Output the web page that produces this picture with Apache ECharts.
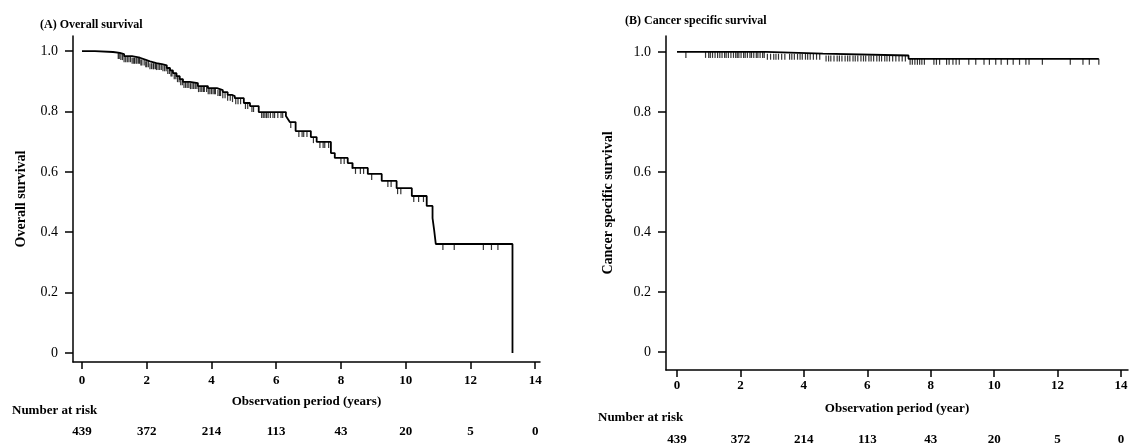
<!DOCTYPE html>
<html>
<head>
<meta charset="utf-8">
<script src="https://cdn.jsdelivr.net/npm/echarts@6/dist/echarts.min.js"></script>
<style>
  html, body { margin: 0; padding: 0; background: #fff; }
  #main { width: 1130px; height: 444px; }
</style>
</head>
<body>
<div id="main"></div>
<script>
// x ticks (years) and number at risk under each tick
var yearTicks = [0, 2, 4, 6, 8, 10, 12, 14];
var survTicks = [0, 0.2, 0.4, 0.6, 0.8, 1.0];
var riskOS = [439, 372, 214, 113, 43, 20, 5, 0];
var riskCSS = [439, 372, 214, 113, 43, 20, 5, 0];

// (A) overall survival: [time, survival after event]
var osSteps = [
  [0, 1.0], [0.4, 0.997], [0.96, 0.994], [1.17, 0.99], [1.3, 0.983], [1.54, 0.978],
  [1.79, 0.972], [1.95, 0.966], [2.1, 0.96], [2.3, 0.957], [2.47, 0.953], [2.62, 0.944],
  [2.72, 0.936], [2.81, 0.927], [2.92, 0.917], [3.02, 0.907], [3.12, 0.898], [3.33, 0.894],
  [3.58, 0.884], [3.89, 0.877], [4.17, 0.871], [4.35, 0.864], [4.5, 0.855], [4.63, 0.851],
  [4.72, 0.844], [5.0, 0.828], [5.19, 0.818], [5.46, 0.798], [6.3, 0.785], [6.36, 0.775],
  [6.42, 0.765], [6.6, 0.735], [7.07, 0.715], [7.25, 0.699], [7.69, 0.662], [7.81, 0.646],
  [8.21, 0.629], [8.36, 0.613], [8.83, 0.593], [9.26, 0.57], [9.72, 0.546], [10.19, 0.52],
  [10.65, 0.487], [10.83, 0.447], [10.88, 0.407], [10.93, 0.361], [13.3, 0]
];
// censored times for (A)
var osCensor = [
  1.12, 1.15, 1.2, 1.25, 1.3, 1.35, 1.4, 1.45, 1.5, 1.55, 1.6, 1.62, 1.67, 1.7, 1.75, 1.78,
  1.82, 1.85, 1.92, 1.97, 2.0, 2.05, 2.1, 2.15, 2.2, 2.22, 2.27, 2.3, 2.35, 2.4, 2.45, 2.5,
  2.55, 2.6, 2.65, 2.7, 2.75, 2.78, 2.85, 2.9, 2.95, 3.0, 3.05, 3.1, 3.15, 3.2, 3.25, 3.3,
  3.35, 3.4, 3.45, 3.5, 3.55, 3.6, 3.65, 3.7, 3.75, 3.78, 3.85, 3.9, 3.95, 4.0, 4.05, 4.1,
  4.12, 4.2, 4.25, 4.28, 4.35, 4.42, 4.5, 4.58, 4.65, 4.75, 4.82, 4.9, 5.05, 5.12, 5.25,
  5.3, 5.55, 5.6, 5.65, 5.7, 5.75, 5.82, 5.9, 5.95, 6.05, 6.15, 6.2, 6.45, 6.7, 6.8, 6.85,
  6.95, 7.15, 7.35, 7.45, 7.5, 7.62, 8.0, 8.1, 8.35, 8.45, 8.6, 8.7, 8.95, 9.45, 9.55, 9.75,
  9.85, 10.25, 10.4, 10.55, 11.15, 11.5, 12.4, 12.65, 12.85
];

// (B) cancer specific survival
var cssSteps = [
  [0, 1.0], [2.8, 0.994], [4.6, 0.988], [7.3, 0.977], [13.3, 0.977]
];
var cssCensor = [
  0.28, 0.9, 1.0, 1.05, 1.12, 1.2, 1.28, 1.35, 1.42, 1.5, 1.55, 1.62, 1.7, 1.78, 1.85, 1.9,
  1.95, 2.02, 2.1, 2.15, 2.22, 2.3, 2.35, 2.42, 2.5, 2.55, 2.62, 2.7, 2.75, 2.85, 2.95, 3.05,
  3.12, 3.2, 3.3, 3.4, 3.55, 3.62, 3.7, 3.8, 3.88, 3.95, 4.05, 4.12, 4.2, 4.3, 4.4, 4.5,
  4.7, 4.78, 4.85, 4.95, 5.05, 5.12, 5.2, 5.3, 5.38, 5.45, 5.55, 5.62, 5.7, 5.8, 5.88, 5.95,
  6.05, 6.12, 6.2, 6.3, 6.38, 6.45, 6.55, 6.62, 6.7, 6.8, 6.9, 7.0, 7.1, 7.2, 7.35, 7.42,
  7.5, 7.58, 7.65, 7.72, 7.8, 8.1, 8.18, 8.28, 8.5, 8.58, 8.7, 8.8, 8.9, 9.2, 9.42, 9.68,
  9.85, 10.05, 10.22, 10.42, 10.6, 10.8, 11.0, 11.1, 11.52, 12.4, 12.8, 13.0, 13.3
];

// value of the step curve at time t
function survAt(steps, t) {
  var s = steps[0][1];
  for (var i = 0; i < steps.length; i++) {
    if (steps[i][0] <= t) s = steps[i][1];
  }
  return s;
}
function censorPoints(steps, times) {
  return times.map(function (t) { return [t, survAt(steps, t)]; });
}

var FONT = '"Liberation Serif", "DejaVu Serif", serif';

function xAxisMain(grid, min, max, name, gap, labelMargin) {
  return {
    gridIndex: grid, type: 'value', min: min, max: max,
    name: name, nameLocation: 'middle', nameGap: gap,
    nameTextStyle: { fontFamily: FONT, fontWeight: 'bold', fontSize: 13, color: '#000' },
    axisLine: { show: true, onZero: false, lineStyle: { color: '#000', width: 1.5 } },
    axisTick: { show: true, length: 7, lineStyle: { color: '#000', width: 1.5 }, customValues: yearTicks },
    axisLabel: { margin: labelMargin, fontFamily: FONT, fontWeight: 'bold', fontSize: 13, color: '#000', customValues: yearTicks },
    splitLine: { show: false }
  };
}
function xAxisRisk(grid, min, max, risk, offset) {
  return {
    gridIndex: grid, type: 'value', min: min, max: max, position: 'bottom', offset: offset,
    axisLine: { show: false }, axisTick: { show: false }, splitLine: { show: false },
    axisLabel: {
      margin: 8, fontFamily: FONT, fontWeight: 'bold', fontSize: 13, color: '#000',
      customValues: yearTicks,
      formatter: function (v) { return String(risk[Math.round(v / 2)]); }
    }
  };
}
function yAxisMain(grid, min, max, name, gap) {
  return {
    gridIndex: grid, type: 'value', min: min, max: max,
    name: name, nameLocation: 'middle', nameGap: gap,
    nameTextStyle: { fontFamily: FONT, fontWeight: 'bold', fontSize: 14, color: '#000' },
    axisLine: { show: true, onZero: false, lineStyle: { color: '#000', width: 1.5 } },
    axisTick: { show: true, length: 8, lineStyle: { color: '#000', width: 1.5 }, customValues: survTicks },
    axisLabel: {
      margin: 15, fontFamily: FONT, fontSize: 14, color: '#000', customValues: survTicks,
      formatter: function (v) { return v === 0 ? '0' : v.toFixed(1); }
    },
    splitLine: { show: false }
  };
}

var censorSymbol = { symbol: 'rect', symbolSize: [1.2, 6], symbolOffset: [0, 3] };

var option = {
  animation: false,
  backgroundColor: '#fff',
  title: [
    { text: '(A) Overall survival', left: 35, top: 14,
      textStyle: { fontFamily: FONT, fontWeight: 'bold', fontSize: 12, color: '#000' } },
    { text: '(B) Cancer specific survival', left: 620, top: 10,
      textStyle: { fontFamily: FONT, fontWeight: 'bold', fontSize: 12, color: '#000' } }
  ],
  grid: [
    { left: 73, top: 36, width: 467, height: 326, outerBoundsMode: 'none' },
    { left: 666, top: 36, width: 462, height: 334, outerBoundsMode: 'none' }
  ],
  xAxis: [
    xAxisMain(0, -0.278, 14.15, 'Observation period (years)', 33, 12),
    xAxisMain(1, -0.347, 14.22, 'Observation period (year)', 32, 9),
    xAxisRisk(0, -0.278, 14.15, riskOS, 55),
    xAxisRisk(1, -0.347, 14.22, riskCSS, 55)
  ],
  yAxis: [
    yAxisMain(0, -0.03, 1.05, 'Overall survival', 45),
    yAxisMain(1, -0.06, 1.053, 'Cancer specific survival', 51)
  ],
  series: [
    { type: 'line', xAxisIndex: 0, yAxisIndex: 0, step: 'end', data: osSteps,
      showSymbol: false, lineStyle: { color: '#000', width: 1.8 } },
    Object.assign({ type: 'scatter', xAxisIndex: 0, yAxisIndex: 0,
      data: censorPoints(osSteps, osCensor), itemStyle: { color: '#000' } }, censorSymbol),
    { type: 'line', xAxisIndex: 1, yAxisIndex: 1, step: 'end', data: cssSteps,
      showSymbol: false, lineStyle: { color: '#000', width: 1.8 } },
    Object.assign({ type: 'scatter', xAxisIndex: 1, yAxisIndex: 1,
      data: censorPoints(cssSteps, cssCensor), itemStyle: { color: '#000' } }, censorSymbol)
  ],
  graphic: [
    { type: 'text', left: 12, top: 404,
      style: { text: 'Number at risk', font: 'bold 13px ' + FONT, fill: '#000' } },
    { type: 'text', left: 598, top: 411,
      style: { text: 'Number at risk', font: 'bold 13px ' + FONT, fill: '#000' } }
  ]
};

var chart = echarts.init(document.getElementById('main'), null, { renderer: 'canvas' });
chart.setOption(option);
</script>
</body>
</html>
